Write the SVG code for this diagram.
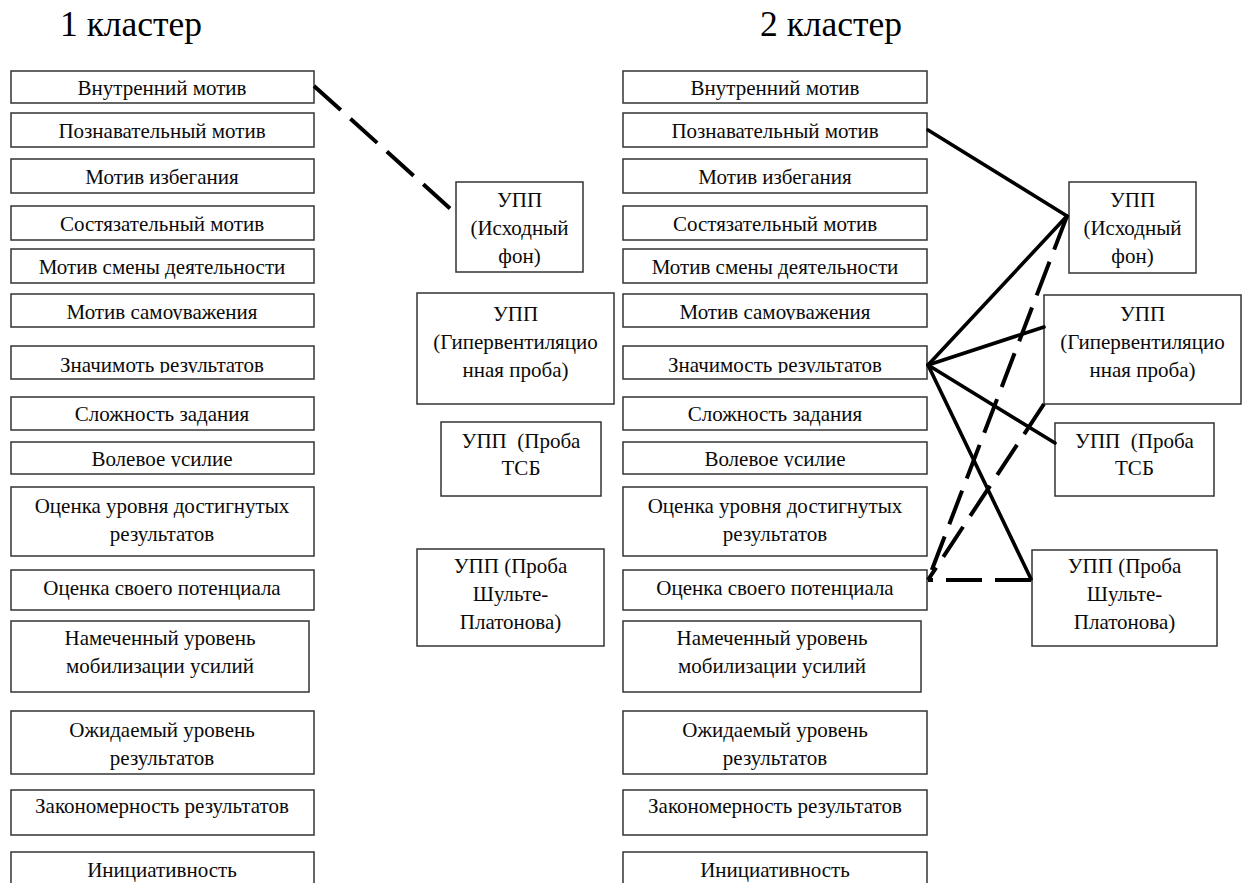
<svg xmlns="http://www.w3.org/2000/svg" width="1248" height="883" viewBox="0 0 1248 883">
  <style>
    .box { fill: #ffffff; stroke: #333333; stroke-width: 1.5; }
    .t { font-family: "Liberation Serif", "Times New Roman", serif; font-size: 21px; fill: #0a0a0a; text-anchor: middle; }
    .title { font-family: "Liberation Serif", "Times New Roman", serif; font-size: 35.5px; fill: #000000; }
    .solid { stroke: #000000; stroke-width: 3.6; fill: none; stroke-linecap: round; }
    .dash { stroke: #000000; stroke-width: 4; fill: none; stroke-dasharray: 36 13; }
  </style>
  <defs>
    <!-- descenders are cut at the frame edge in a few boxes -->
    <clipPath id="clipA"><rect x="0" y="0" width="1248" height="320"/></clipPath>
    <clipPath id="clipB"><rect x="0" y="0" width="1248" height="373"/></clipPath>
    <clipPath id="clipC"><rect x="0" y="0" width="1248" height="467"/></clipPath>
  </defs>
  <rect x="0" y="0" width="1248" height="883" fill="#ffffff"/>

  <text class="title" x="60" y="36">1 кластер</text>
  <text class="title" x="760" y="36">2 кластер</text>

  <!-- cluster 1: factor column -->
  <g id="c1-vnutrenniy"><rect class="box" x="11" y="71" width="303" height="32"/><text class="t" x="162" y="95">Внутренний мотив</text></g>
  <g id="c1-poznavatelnyy"><rect class="box" x="11" y="113" width="303" height="34"/><text class="t" x="162" y="138">Познавательный мотив</text></g>
  <g id="c1-izbeganiya"><rect class="box" x="11" y="159" width="303" height="34"/><text class="t" x="162" y="184">Мотив избегания</text></g>
  <g id="c1-sostyazatelnyy"><rect class="box" x="11" y="206" width="303" height="34"/><text class="t" x="162" y="231">Состязательный мотив</text></g>
  <g id="c1-smeny"><rect class="box" x="11" y="249" width="303" height="34"/><text class="t" x="162" y="274">Мотив смены деятельности</text></g>
  <g id="c1-samouvazheniya"><rect class="box" x="11" y="294" width="303" height="33"/><text class="t" x="162" y="319" clip-path="url(#clipA)">Мотив самоуважения</text></g>
  <g id="c1-znachimost"><rect class="box" x="11" y="346" width="303" height="33"/><text class="t" x="162" y="372" clip-path="url(#clipB)">Значимоть результатов</text></g>
  <g id="c1-slozhnost"><rect class="box" x="11" y="397" width="303" height="33"/><text class="t" x="162" y="421">Сложность задания</text></g>
  <g id="c1-volevoe"><rect class="box" x="11" y="442" width="303" height="32"/><text class="t" x="162" y="466" clip-path="url(#clipC)">Волевое усилие</text></g>
  <g id="c1-ocenka-urovnya"><rect class="box" x="11" y="487" width="303" height="69"/><text class="t" x="162" y="513">Оценка уровня достигнутых</text><text class="t" x="162" y="541">результатов</text></g>
  <g id="c1-ocenka-potenciala"><rect class="box" x="11" y="570" width="303" height="40"/><text class="t" x="162" y="595">Оценка своего потенциала</text></g>
  <g id="c1-namechennyy"><rect class="box" x="11" y="621" width="298" height="71"/><text class="t" x="160" y="645">Намеченный уровень</text><text class="t" x="160" y="673">мобилизации усилий</text></g>
  <g id="c1-ozhidaemyy"><rect class="box" x="11" y="711" width="303" height="63"/><text class="t" x="162" y="737">Ожидаемый уровень</text><text class="t" x="162" y="765">результатов</text></g>
  <g id="c1-zakonomernost"><rect class="box" x="11" y="790" width="303" height="45"/><text class="t" x="162" y="813">Закономерность результатов</text></g>
  <g id="c1-iniciativnost"><rect class="box" x="11" y="852" width="303" height="40"/><text class="t" x="162" y="877">Инициативность</text></g>

  <!-- cluster 1: УПП tests -->
  <g id="c1-upp-fon"><rect class="box" x="456" y="182" width="127" height="90"/><text class="t" x="519.5" y="207">УПП</text><text class="t" x="519.5" y="235">(Исходный</text><text class="t" x="519.5" y="263">фон)</text></g>
  <g id="c1-upp-giper"><rect class="box" x="417" y="293" width="197" height="111"/><text class="t" x="515.5" y="321">УПП</text><text class="t" x="515.5" y="349">(Гипервентиляцио</text><text class="t" x="515.5" y="377">нная проба)</text></g>
  <g id="c1-upp-tsb"><rect class="box" x="441" y="422" width="160" height="74"/><text class="t" x="521" y="448" xml:space="preserve">УПП  (Проба</text><text class="t" x="521" y="475">ТСБ</text></g>
  <g id="c1-upp-shulte"><rect class="box" x="417" y="549" width="187" height="97"/><text class="t" x="510.5" y="573">УПП (Проба</text><text class="t" x="510.5" y="601">Шульте-</text><text class="t" x="510.5" y="629">Платонова)</text></g>

  <!-- cluster 2: factor column -->
  <g id="c2-vnutrenniy"><rect class="box" x="623" y="71" width="304" height="32"/><text class="t" x="775" y="95">Внутренний мотив</text></g>
  <g id="c2-poznavatelnyy"><rect class="box" x="623" y="113" width="304" height="34"/><text class="t" x="775" y="138">Познавательный мотив</text></g>
  <g id="c2-izbeganiya"><rect class="box" x="623" y="159" width="304" height="34"/><text class="t" x="775" y="184">Мотив избегания</text></g>
  <g id="c2-sostyazatelnyy"><rect class="box" x="623" y="206" width="304" height="34"/><text class="t" x="775" y="231">Состязательный мотив</text></g>
  <g id="c2-smeny"><rect class="box" x="623" y="249" width="304" height="34"/><text class="t" x="775" y="274">Мотив смены деятельности</text></g>
  <g id="c2-samouvazheniya"><rect class="box" x="623" y="294" width="304" height="33"/><text class="t" x="775" y="319" clip-path="url(#clipA)">Мотив самоуважения</text></g>
  <g id="c2-znachimost"><rect class="box" x="623" y="346" width="304" height="33"/><text class="t" x="775" y="372" clip-path="url(#clipB)">Значимость результатов</text></g>
  <g id="c2-slozhnost"><rect class="box" x="623" y="397" width="304" height="33"/><text class="t" x="775" y="421">Сложность задания</text></g>
  <g id="c2-volevoe"><rect class="box" x="623" y="442" width="304" height="32"/><text class="t" x="775" y="466" clip-path="url(#clipC)">Волевое усилие</text></g>
  <g id="c2-ocenka-urovnya"><rect class="box" x="623" y="487" width="304" height="69"/><text class="t" x="775" y="513">Оценка уровня достигнутых</text><text class="t" x="775" y="541">результатов</text></g>
  <g id="c2-ocenka-potenciala"><rect class="box" x="623" y="570" width="304" height="40"/><text class="t" x="775" y="595">Оценка своего потенциала</text></g>
  <g id="c2-namechennyy"><rect class="box" x="623" y="621" width="298" height="71"/><text class="t" x="772" y="645">Намеченный уровень</text><text class="t" x="772" y="673">мобилизации усилий</text></g>
  <g id="c2-ozhidaemyy"><rect class="box" x="623" y="711" width="304" height="63"/><text class="t" x="775" y="737">Ожидаемый уровень</text><text class="t" x="775" y="765">результатов</text></g>
  <g id="c2-zakonomernost"><rect class="box" x="623" y="790" width="304" height="45"/><text class="t" x="775" y="813">Закономерность результатов</text></g>
  <g id="c2-iniciativnost"><rect class="box" x="623" y="852" width="304" height="40"/><text class="t" x="775" y="877">Инициативность</text></g>

  <!-- cluster 2: УПП tests -->
  <g id="c2-upp-fon"><rect class="box" x="1069" y="182" width="127" height="91"/><text class="t" x="1132.5" y="207">УПП</text><text class="t" x="1132.5" y="235">(Исходный</text><text class="t" x="1132.5" y="263">фон)</text></g>
  <g id="c2-upp-giper"><rect class="box" x="1044" y="295" width="197" height="109"/><text class="t" x="1142.5" y="321">УПП</text><text class="t" x="1142.5" y="349">(Гипервентиляцио</text><text class="t" x="1142.5" y="377">нная проба)</text></g>
  <g id="c2-upp-tsb"><rect class="box" x="1055" y="423" width="159" height="73"/><text class="t" x="1134.5" y="448" xml:space="preserve">УПП  (Проба</text><text class="t" x="1134.5" y="475">ТСБ</text></g>
  <g id="c2-upp-shulte"><rect class="box" x="1032" y="550" width="185" height="96"/><text class="t" x="1124.5" y="573">УПП (Проба</text><text class="t" x="1124.5" y="601">Шульте-</text><text class="t" x="1124.5" y="629">Платонова)</text></g>

  <!-- links -->
  <g id="connectors">
    <line class="dash" x1="314" y1="86" x2="454" y2="212"/>

    <line class="solid" x1="928" y1="130" x2="1067" y2="216"/>
    <line class="solid" x1="928" y1="365" x2="1067" y2="216"/>
    <line class="solid" x1="928" y1="365" x2="1044" y2="327"/>
    <line class="solid" x1="928" y1="365" x2="1055" y2="443"/>
    <line class="solid" x1="928" y1="365" x2="1031" y2="579"/>

    <line class="dash" x1="1067" y1="216" x2="928" y2="580"/>
    <line class="dash" x1="1044" y1="404" x2="928" y2="580"/>
    <line class="dash" x1="1031" y1="580" x2="928" y2="580"/>
  </g>
</svg>
